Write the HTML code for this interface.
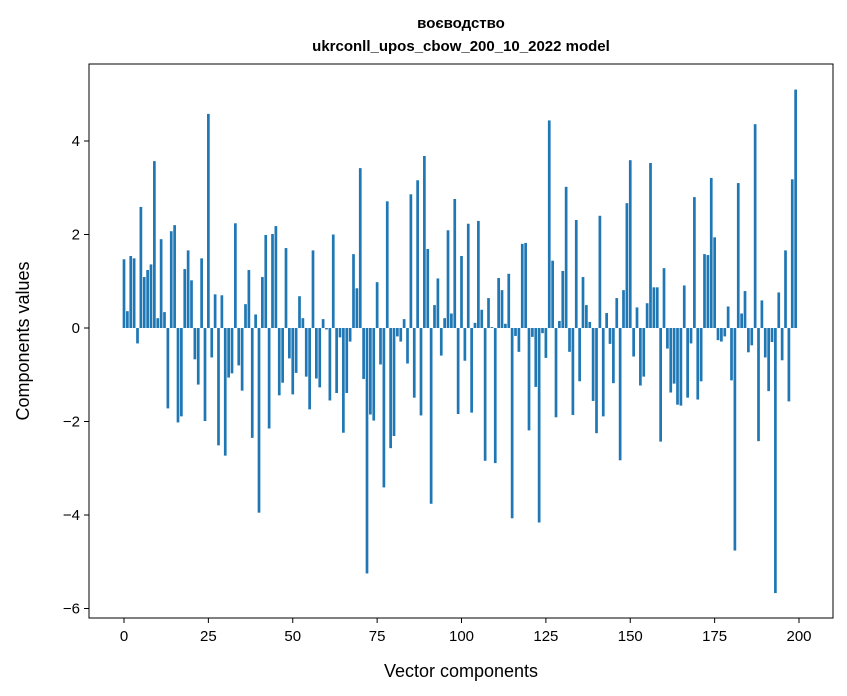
<!DOCTYPE html>
<html><head><meta charset="utf-8"><style>
body{margin:0;background:#fff}
svg{display:block;font-family:"Liberation Sans","DejaVu Sans",sans-serif}
</style></head><body>
<svg id="chart" width="847" height="696">
<text x="461" y="28" text-anchor="middle" font-size="15" font-weight="bold">воєводство</text>
<text x="461" y="51" text-anchor="middle" font-size="15" font-weight="bold">ukrconll_upos_cbow_200_10_2022 model</text>
<g id="bars"></g>
<g id="xticks"></g>
<g id="yticks"></g>
<rect x="89" y="64" width="744" height="554" fill="none" stroke="#000" stroke-width="1"/>
<text x="461" y="677" text-anchor="middle" font-size="18">Vector components</text>
<text transform="translate(29,341) rotate(-90)" text-anchor="middle" font-size="18">Components values</text>
</svg>
<script>
const values = [1.47,0.36,1.54,1.49,-0.33,2.59,1.09,1.24,1.36,3.57,0.21,1.9,0.34,-1.72,2.07,2.2,-2.02,-1.89,1.26,1.66,
1.02,-0.67,-1.21,1.49,-1.99,4.58,-0.63,0.72,-2.51,0.7,-2.73,-1.06,-0.97,2.24,-0.8,-1.34,0.51,1.24,-2.35,0.29,
-3.95,1.09,1.99,-2.15,2.01,2.18,-1.44,-1.17,1.71,-0.65,-1.42,-0.96,0.68,0.21,-1.04,-1.74,1.66,-1.08,-1.27,0.19,
-0.03,-1.55,2.0,-1.39,-0.2,-2.24,-1.39,-0.29,1.58,0.85,3.42,-1.09,-5.25,-1.85,-1.98,0.98,-0.78,-3.41,2.71,-2.57,
-2.31,-0.18,-0.29,0.19,-0.76,2.86,-1.49,3.16,-1.87,3.68,1.69,-3.76,0.49,1.06,-0.59,0.21,2.09,0.31,2.76,-1.84,
1.54,-0.7,2.23,-1.81,0.11,2.29,0.39,-2.84,0.64,0.02,-2.89,1.07,0.81,0.09,1.16,-4.07,-0.17,-0.51,1.8,1.82,
-2.19,-0.19,-1.26,-4.16,-0.11,-0.64,4.44,1.44,-1.91,0.15,1.22,3.02,-0.51,-1.86,2.31,-1.14,1.09,0.49,0.13,-1.56,
-2.25,2.4,-1.89,0.32,-0.34,-1.18,0.64,-2.83,0.81,2.67,3.59,-0.61,0.44,-1.23,-1.04,0.53,3.53,0.87,0.87,-2.43,
1.28,-0.44,-1.38,-1.19,-1.64,-1.66,0.91,-1.49,-0.33,2.8,-1.53,-1.14,1.58,1.56,3.21,1.94,-0.26,-0.29,-0.18,0.46,
-1.12,-4.76,3.1,0.31,0.79,-0.52,-0.37,4.36,-2.42,0.59,-0.63,-1.35,-0.3,-5.67,0.76,-0.69,1.66,-1.57,3.18,5.1];
const xTicks = [0,25,50,75,100,125,150,175,200];
const yTicks = [-6,-4,-2,0,2,4];
const NS = "http://www.w3.org/2000/svg";
const L=89,R=833,T=64,B=618;
const xMin=-10.37,xMax=210.07,yMin=-6.203,yMax=5.647;
const xs = v => L + (v-xMin)/(xMax-xMin)*(R-L);
const ys = v => B - (v-yMin)/(yMax-yMin)*(B-T);
const bw = xs(0.8)-xs(0);
const gb = document.getElementById('bars');
values.forEach((v,i)=>{
  const r=document.createElementNS(NS,'rect');
  const y0=ys(0), y1=ys(v);
  r.setAttribute('x',xs(i)-bw/2);
  r.setAttribute('y',Math.min(y0,y1));
  r.setAttribute('width',bw);
  r.setAttribute('height',Math.abs(y1-y0));
  r.setAttribute('fill','#1f77b4');
  
  
  gb.appendChild(r);
});
const gx=document.getElementById('xticks');
xTicks.forEach(t=>{
  const x=xs(t);
  const l=document.createElementNS(NS,'line');
  l.setAttribute('x1',x);l.setAttribute('x2',x);l.setAttribute('y1',B);l.setAttribute('y2',B+5);
  l.setAttribute('stroke','#000');
  
  
  gx.appendChild(l);
  const tx=document.createElementNS(NS,'text');
  tx.setAttribute('x',x);tx.setAttribute('y',B+23);tx.setAttribute('text-anchor','middle');tx.setAttribute('font-size','15');
  tx.textContent=t;
  
  
  gx.appendChild(tx);
});
const gy=document.getElementById('yticks');
yTicks.forEach(t=>{
  const y=ys(t);
  const l=document.createElementNS(NS,'line');
  l.setAttribute('x1',L-5);l.setAttribute('x2',L);l.setAttribute('y1',y);l.setAttribute('y2',y);
  l.setAttribute('stroke','#000');
  
  
  gy.appendChild(l);
  const tx=document.createElementNS(NS,'text');
  tx.setAttribute('x',L-9);tx.setAttribute('y',y+5);tx.setAttribute('text-anchor','end');tx.setAttribute('font-size','15');
  tx.textContent=t<0?'\u2212'+Math.abs(t):t;
  
  
  gy.appendChild(tx);
});
</script>
</body></html>
